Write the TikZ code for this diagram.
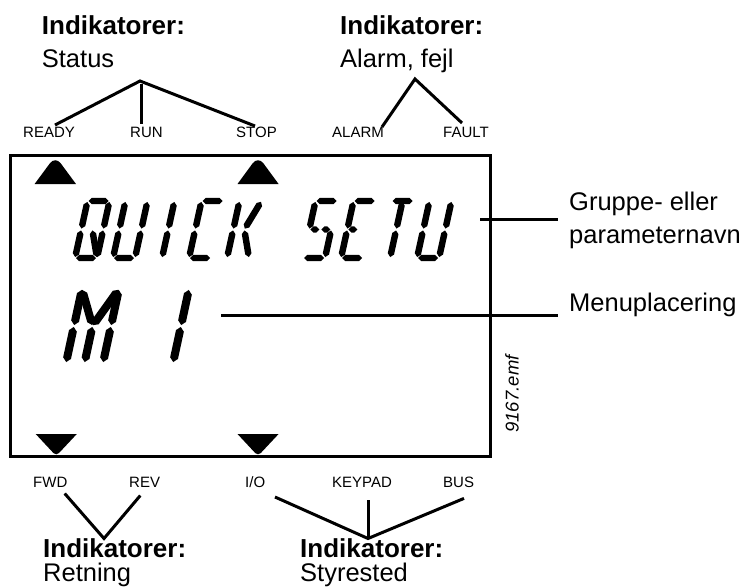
\documentclass[tikz,border=0pt]{standalone}
\usepackage{fontspec}
\setmainfont{Liberation Sans}
\usetikzlibrary{calc}
\tikzset{
 hdr/.style={font=\bfseries\fontsize{26}{30}\selectfont, anchor=base west, inner sep=0pt},
 sub/.style={font=\fontsize{25.5}{30}\selectfont, anchor=base west, inner sep=0pt},
 lbl/.style={font=\fontsize{15}{18}\selectfont, anchor=base west, inner sep=0pt},
 conn/.style={line width=3pt},
 frame/.style={line width=3pt},
 lcdcell/.style={},
}
\def\lcdg{1.0pt}
\def\lcdhw{2.4pt}
\def\lcdt{3.6pt}
\newcommand\lcdsg[2]{%
 \begin{scope}[lcdcell]\coordinate (sA) at #1;\coordinate (sB) at #2;\end{scope}
 \fill ($(sA)!\lcdg!(sB)$) -- ($(sA)!\lcdt!(sB)!\lcdhw!90:(sB)$) -- ($(sB)!\lcdt!(sA)!\lcdhw!-90:(sA)$) -- ($(sB)!\lcdg!(sA)$) -- ($(sB)!\lcdt!(sA)!\lcdhw!90:(sA)$) -- ($(sA)!\lcdt!(sB)!\lcdhw!-90:(sB)$) -- cycle;}
\newcommand\lcdSa{\lcdsg{(0,1)}{(1,1)}}
\newcommand\lcdSb{\lcdsg{(1,1)}{(1,.5)}}
\newcommand\lcdSc{\lcdsg{(1,.5)}{(1,0)}}
\newcommand\lcdSd{\lcdsg{(0,0)}{(1,0)}}
\newcommand\lcdSe{\lcdsg{(0,.5)}{(0,0)}}
\newcommand\lcdSf{\lcdsg{(0,1)}{(0,.5)}}
\newcommand\lcdSg{\lcdsg{(0,.5)}{(.5,.5)}}
\newcommand\lcdSG{\lcdsg{(.5,.5)}{(1,.5)}}
\newcommand\lcdSh{\lcdsg{(0,1)}{(.5,.5)}}
\newcommand\lcdSi{\lcdsg{(.5,1)}{(.5,.5)}}
\newcommand\lcdSj{\lcdsg{(1,1)}{(.5,.5)}}
\newcommand\lcdSk{\lcdsg{(.5,.5)}{(0,0)}}
\newcommand\lcdSm{\lcdsg{(.5,.5)}{(.5,0)}}
\newcommand\lcdSn{\lcdsg{(.5,.5)}{(1,0)}}
% x0, ybottom, W, H, slant, halfwidth, segments
\newcommand\lcdchar[7]{%
 \tikzset{lcdcell/.style={shift={(#1,#2)},x=#3pt,y=#4pt,xslant=#5}}%
 \def\lcdhw{#6pt}%
 \pgfmathsetlengthmacro\lcdt{#6pt+1.0pt}%
 \foreach \s in {#7}{\csname lcdS\s\endcsname}}
\begin{document}
\begin{tikzpicture}[x=1pt,y=-1pt]
\useasboundingbox (0,0) rectangle (749,586);
% frame
\draw[frame] (10.7,155) rectangle (490,456);
% indicator triangles
\fill (34.6,184) [rounded corners=9pt] -- (55.3,156) [sharp corners] -- (76,184) -- cycle;
\fill (237.5,184) [rounded corners=9pt] -- (258,156) [sharp corners] -- (278.6,184) -- cycle;
\fill (35.7,434) -- (76.8,434) [rounded corners=4pt] -- (56.2,456) [sharp corners] -- cycle;
\fill (237.5,434) -- (278.6,434) [rounded corners=4pt] -- (258,456) [sharp corners] -- cycle;
% LCD text row 1: QUICK SETU
\lcdchar{75}{258}{22}{57}{0.22}{3.2}{a,b,c,d,e,f,n}
\lcdchar{113}{258}{22}{57}{0.22}{3.2}{b,c,d,e,f}
\lcdchar{151}{258}{22}{57}{0.22}{3.2}{i,m}
\lcdchar{189}{258}{22}{57}{0.22}{3.2}{a,d,e,f}
\lcdchar{227}{258}{22}{57}{0.22}{3.2}{e,f,j,n}
\lcdchar{303}{258}{22}{57}{0.22}{3.2}{a,f,g,G,c,d}
\lcdchar{341}{258}{22}{57}{0.22}{3.2}{a,f,g,e,d}
\lcdchar{379}{258}{22}{57}{0.22}{3.2}{a,i,m}
\lcdchar{417}{258}{22}{57}{0.22}{3.2}{b,c,d,e,f}
% LCD text row 2: M 1
\lcdchar{66}{363}{37}{74}{0.216}{4}{f,e,b,c,h,j,m}
\lcdchar{136}{363}{37}{74}{0.216}{4}{b,c}
% top labels
\node[hdr] (h1) at (41.7,35) {Indikatorer:};
\node[sub] (s1) at (41.7,67) {Status};
\node[hdr] (h2) at (340,35) {Indikatorer:};
\node[sub] (s2) at (340,67) {Alarm, fejl};
\node[lbl] (ready) at (23,137) {READY};
\node[lbl] (run) at (130,137) {RUN};
\node[lbl] (stop) at (236,137) {STOP};
\node[lbl] (alarm) at (332,137) {ALARM};
\node[lbl] (fault) at (443,137) {FAULT};
\coordinate (stA) at (140,81);
\coordinate (stR) at (55,125);
\coordinate (stU0) at (141.5,84);
\coordinate (stU) at (141.5,124);
\coordinate (stS) at (255,126);
\draw[conn] (stR) -- (stA) -- (stS);
\draw[conn] (stU0) -- (stU);
\coordinate (alA) at (415,79);
\coordinate (alL) at (382,127);
\coordinate (alR) at (462,123);
\draw[conn] (alL) -- (alA) -- (alR);
% right labels
\coordinate (gL0) at (480,219);
\coordinate (gL1) at (558,219);
\draw[conn] (gL0) -- (gL1);
\node[sub] (grp) at (569,210.7) {Gruppe- eller};
\node[sub] (par) at (569,243.3) {parameternavn};
\coordinate (mL0) at (221,315);
\coordinate (mL1) at (558,315);
\draw[conn] (mL0) -- (mL1);
\node[sub] (men) at (569,311.7) {Menuplacering};
\node[font=\itshape\fontsize{18.5}{20}\selectfont, rotate=90, inner sep=0pt] (emf) at (512,394) {9167.emf};
% bottom labels
\node[lbl] (fwd) at (33,487) {FWD};
\node[lbl] (rev) at (129,487) {REV};
\node[lbl] (io) at (245,487) {I/O};
\node[lbl] (keypad) at (332,487) {KEYPAD};
\node[lbl] (bus) at (443,487) {BUS};
\coordinate (rtA) at (104,538.5);
\coordinate (rtL) at (64.7,493.5);
\coordinate (rtR) at (140.3,495.5);
\draw[conn] (rtL) -- (rtA) -- (rtR);
\coordinate (syA) at (368,538.5);
\coordinate (syL) at (275,497);
\coordinate (syR) at (464,498.4);
\coordinate (syK) at (368,500);
\draw[conn] (syL) -- (syA) -- (syR);
\draw[conn] (syK) -- (syA);
\node[hdr] (h3) at (43,557) {Indikatorer:};
\node[sub] (s3) at (43,581) {Retning};
\node[hdr] (h4) at (300,557) {Indikatorer:};
\node[sub] (s4) at (300,581) {Styrested};
\end{tikzpicture}
\end{document}
